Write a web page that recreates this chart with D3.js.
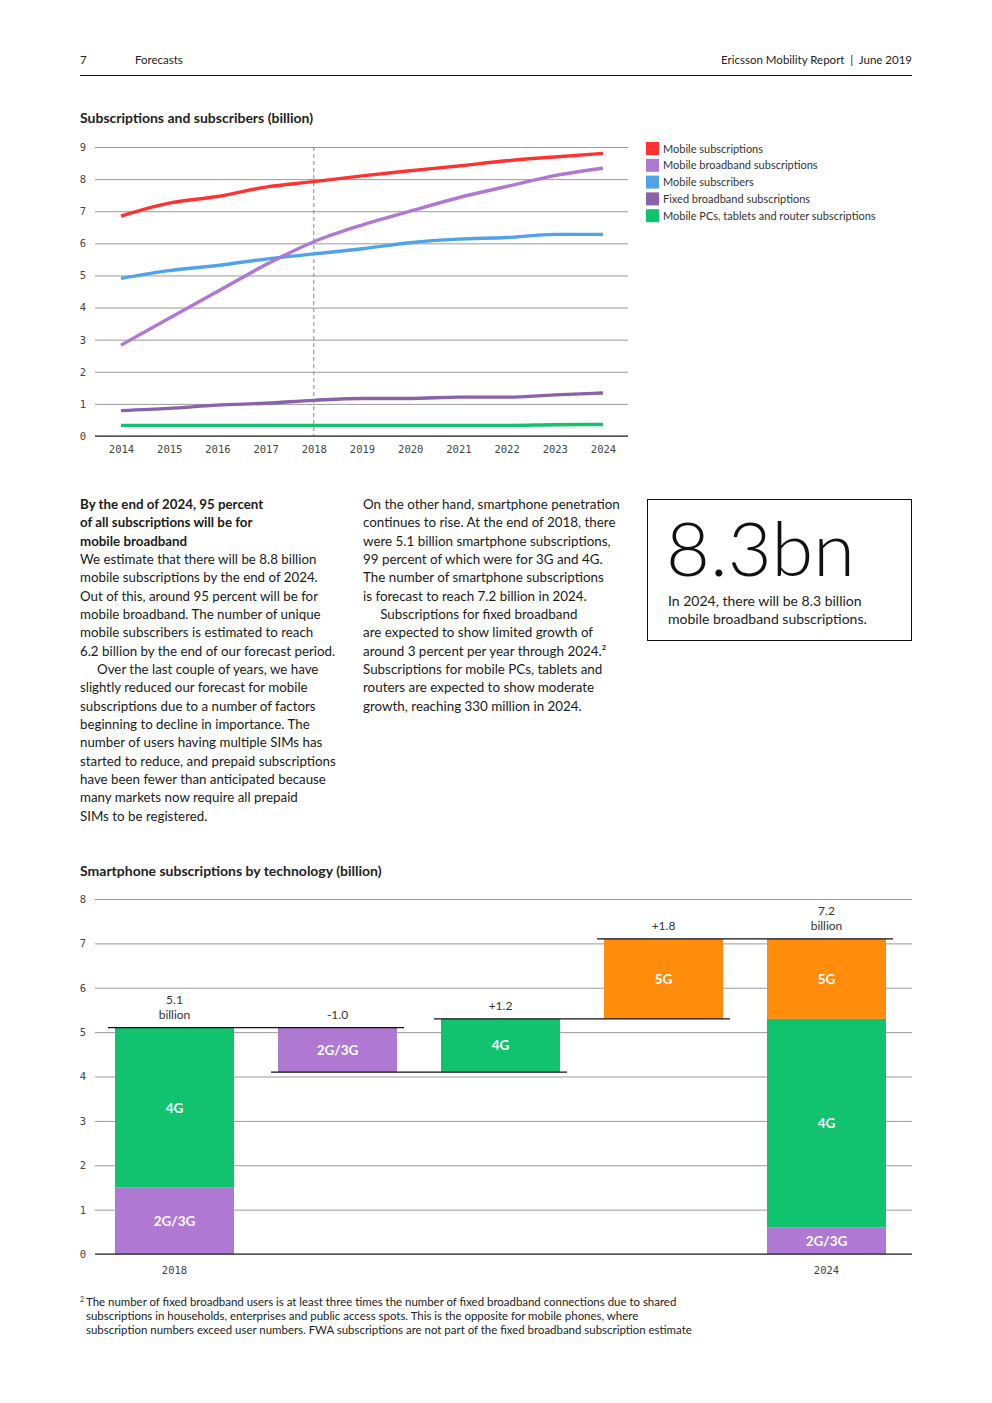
<!DOCTYPE html>
<html>
<head>
<meta charset="utf-8">
<script src="https://cdn.jsdelivr.net/npm/d3@7"></script>
<style>
  body { margin: 0; background: #fff; }
  svg { display: block; }
  text { font-family: Lato, "Noto Sans", sans-serif; fill: #222; }
  .mono { font-family: "DejaVu Sans Mono", monospace; }
</style>
</head>
<body>
<svg id="page" width="992" height="1403"></svg>
<script>
// ---- data: subscriptions and subscribers (billion) ----
const years = [2014, 2015, 2016, 2017, 2018, 2019, 2020, 2021, 2022, 2023, 2024];
const seriesNames = ["Mobile subscriptions", "Mobile broadband subscriptions", "Mobile subscribers",
                     "Fixed broadband subscriptions", "Mobile PCs, tablets and router subscriptions"];
const seriesColors = ["#ff3232", "#af78d2", "#4fa3e8", "#8a62a8", "#11c26f"];
const mobileSubs     = [6.85, 7.25, 7.46, 7.75, 7.92, 8.10, 8.26, 8.41, 8.57, 8.69, 8.80];
const mobileBroadband = [2.83, 3.67, 4.50, 5.33, 6.05, 6.57, 7.00, 7.42, 7.77, 8.11, 8.34];
const mobileSubscribers = [4.91, 5.15, 5.31, 5.51, 5.67, 5.83, 6.02, 6.13, 6.18, 6.28, 6.28];
const fixedBroadband = [0.79, 0.86, 0.96, 1.02, 1.11, 1.17, 1.17, 1.21, 1.21, 1.28, 1.34];
const pcsTablets     = [0.33, 0.33, 0.33, 0.33, 0.33, 0.33, 0.33, 0.33, 0.33, 0.35, 0.36];
const topTicks = [0, 1, 2, 3, 4, 5, 6, 7, 8, 9];

// ---- data: smartphone subscriptions by technology (billion) ----
const steps = ["2018", "2G/3G change", "4G change", "5G change", "2024"];
const techs = ["2G/3G", "4G", "5G"];
const techColors = {"2G/3G": "#af78d2", "4G": "#11c26f", "5G": "#ff8c0a"};
const start2018 = [1.5, 3.6, 0];
const end2024 = [0.6, 4.7, 1.8];
const changes = [-1.0, 1.2, 1.8];   // 2G/3G, 4G, 5G
const stepLabels = [["5.1", "billion"], ["-1.0"], ["+1.2"], ["+1.8"], ["7.2", "billion"]];
const bottomTicks = [0, 1, 2, 3, 4, 5, 6, 7, 8];

const svg = d3.select("#page");

// ---- header ----
svg.append("text").attr("x", 80).attr("y", 64).attr("font-size", 11.5).text("7");
svg.append("text").attr("x", 135).attr("y", 64).attr("font-size", 11.5).text("Forecasts");
svg.append("text").attr("x", 912).attr("y", 64).attr("font-size", 11.5).attr("text-anchor", "end")
    .attr("xml:space", "preserve")
    .text("Ericsson Mobility Report  |  June 2019");
svg.append("line").attr("x1", 80).attr("x2", 912).attr("y1", 75.5).attr("y2", 75.5)
    .attr("stroke", "#111").attr("stroke-width", 1.2);

// ---- top line chart ----
svg.append("text").attr("x", 80).attr("y", 123).attr("font-size", 14).attr("font-weight", "bold")
    .text("Subscriptions and subscribers (billion)");

const x = d3.scaleLinear().domain([2014, 2024]).range([121, 603]);
const y = d3.scaleLinear().domain([0, 9]).range([436, 147]);
const gridLeft = 95, gridRight = 628;

const yAxisTop = svg.append("g")
    .attr("transform", `translate(${gridLeft},0)`)
    .call(d3.axisLeft(y).tickValues(topTicks).tickSize(-(gridRight - gridLeft)).tickPadding(9));
yAxisTop.select(".domain").remove();
yAxisTop.selectAll("line").attr("stroke", "#9a9a9a");
yAxisTop.selectAll("text").attr("class", "mono").attr("font-size", 10.5).style("fill", "#444");

svg.append("line").attr("x1", x(2018)).attr("x2", x(2018)).attr("y1", y(9)).attr("y2", y(0))
    .attr("stroke", "#888").attr("stroke-dasharray", "4,3");

const xAxisTop = svg.append("g")
    .attr("transform", `translate(0,${y(0)})`)
    .call(d3.axisBottom(x).tickValues(years).tickFormat(d3.format("d")).tickSize(0).tickPadding(10));
xAxisTop.select(".domain").remove();
xAxisTop.selectAll("text").attr("class", "mono").attr("font-size", 10.5).style("fill", "#444");
svg.append("line").attr("x1", gridLeft).attr("x2", gridRight).attr("y1", y(0)).attr("y2", y(0))
    .attr("stroke", "#111");

const allSeries = [mobileSubs, mobileBroadband, mobileSubscribers, fixedBroadband, pcsTablets];
const line = d3.line().x((d, i) => x(years[i])).y(d => y(d)).curve(d3.curveMonotoneX);
svg.append("g").selectAll("path")
    .data(allSeries.map((v, i) => ({values: v, color: seriesColors[i]})).reverse())
    .join("path")
    .attr("d", d => line(d.values))
    .attr("fill", "none")
    .attr("stroke", d => d.color)
    .attr("stroke-width", 3.4);

// legend
const legend = svg.append("g").attr("transform", "translate(646,142)");
seriesNames.forEach((name, i) => {
    const g = legend.append("g").attr("transform", `translate(0,${i * 16.8})`);
    g.append("rect").attr("width", 13).attr("height", 13).attr("fill", seriesColors[i]);
    g.append("text").attr("x", 17).attr("y", 10.5).attr("font-size", 11).style("fill", "#333").text(name);
});

// ---- text columns ----
const leftHead = ["By the end of 2024, 95 percent", "of all subscriptions will be for", "mobile broadband"];
const leftBody = [
    "We estimate that there will be 8.8 billion",
    "mobile subscriptions by the end of 2024.",
    "Out of this, around 95 percent will be for",
    "mobile broadband. The number of unique",
    "mobile subscribers is estimated to reach",
    "6.2 billion by the end of our forecast period.",
    "\u00a0\u00a0\u00a0\u00a0\u00a0Over the last couple of years, we have",
    "slightly reduced our forecast for mobile",
    "subscriptions due to a number of factors",
    "beginning to decline in importance. The",
    "number of users having multiple SIMs has",
    "started to reduce, and prepaid subscriptions",
    "have been fewer than anticipated because",
    "many markets now require all prepaid",
    "SIMs to be registered."
];
const midBody = [
    "On the other hand, smartphone penetration",
    "continues to rise. At the end of 2018, there",
    "were 5.1 billion smartphone subscriptions,",
    "99 percent of which were for 3G and 4G.",
    "The number of smartphone subscriptions",
    "is forecast to reach 7.2 billion in 2024.",
    "\u00a0\u00a0\u00a0\u00a0\u00a0Subscriptions for fixed broadband",
    "are expected to show limited growth of",
    "around 3 percent per year through 2024.\u00b2",
    "Subscriptions for mobile PCs, tablets and",
    "routers are expected to show moderate",
    "growth, reaching 330 million in 2024."
];

function column(x0, lines, maxW) {
    const g = svg.append("g").attr("transform", `translate(${x0},0)`);
    lines.forEach((l, i) => {
        g.append("text").attr("x", 0).attr("y", 509 + i * 18.33)
            .attr("font-size", 14)
            .attr("font-weight", l.bold ? "bold" : "normal")
            .style("fill", "#1a1a1a")
            .text(l.t);
    });
    let widest = 0;
    g.selectAll("text").each(function() { widest = Math.max(widest, this.getComputedTextLength()); });
    if (widest > maxW) g.attr("transform", `translate(${x0},0) scale(${maxW / widest},1)`);
}
column(80, leftHead.map(t => ({t, bold: true})).concat(leftBody.map(t => ({t}))), 256);
column(363, midBody.map(t => ({t})), 257);

// ---- highlight box ----
svg.append("rect").attr("x", 647.5).attr("y", 499.5).attr("width", 264).attr("height", 141)
    .attr("fill", "none").attr("stroke", "#111").attr("stroke-width", 1);
svg.append("text")
    .attr("x", 666).attr("y", 576)
    .attr("font-size", 75)
    .attr("font-weight", 300).attr("textLength", 189).attr("lengthAdjust", "spacingAndGlyphs")
    .style("fill", "#111").text("8.3bn");
svg.append("text").attr("x", 668).attr("y", 606).attr("font-size", 14).style("fill", "#222")
    .text("In 2024, there will be 8.3 billion");
svg.append("text").attr("x", 668).attr("y", 624).attr("font-size", 14).style("fill", "#222")
    .text("mobile broadband subscriptions.");

// ---- bottom waterfall chart ----
svg.append("text").attr("x", 80).attr("y", 876).attr("font-size", 14).attr("font-weight", "bold")
    .text("Smartphone subscriptions by technology (billion)");

const xb = d3.scaleBand().domain(steps).range([93, 908]).paddingInner(0.27).paddingOuter(0.135);
const yb = d3.scaleLinear().domain([0, 8]).range([1254, 899]);
const bLeft = 95, bRight = 912;

const yAxisBot = svg.append("g")
    .attr("transform", `translate(${bLeft},0)`)
    .call(d3.axisLeft(yb).tickValues(bottomTicks).tickSize(-(bRight - bLeft)).tickPadding(9));
yAxisBot.select(".domain").remove();
yAxisBot.selectAll("line").attr("stroke", "#9a9a9a");
yAxisBot.selectAll("text").attr("class", "mono").attr("font-size", 10.5).style("fill", "#444");

// build segments
const segs = [];
let acc = 0;
techs.forEach((t, i) => { if (start2018[i] > 0) { segs.push({step: steps[0], tech: t, y0: acc, y1: acc + start2018[i]}); acc += start2018[i]; } });
const levels = [acc];
changes.forEach((c, i) => {
    const prev = levels[levels.length - 1];
    segs.push({step: steps[i + 1], tech: techs[i], y0: Math.min(prev, prev + c), y1: Math.max(prev, prev + c)});
    levels.push(prev + c);
});
acc = 0;
techs.forEach((t, i) => { segs.push({step: steps[4], tech: t, y0: acc, y1: acc + end2024[i]}); acc += end2024[i]; });

svg.append("g").selectAll("rect")
    .data(segs)
    .join("rect")
    .attr("x", d => xb(d.step))
    .attr("width", xb.bandwidth())
    .attr("y", d => yb(d.y1))
    .attr("height", d => yb(d.y0) - yb(d.y1))
    .attr("fill", d => techColors[d.tech]);

svg.append("g").selectAll("text")
    .data(segs)
    .join("text")
    .attr("x", d => xb(d.step) + xb.bandwidth() / 2)
    .attr("y", d => (yb(d.y0) + yb(d.y1)) / 2 + 5)
    .attr("text-anchor", "middle")
    .attr("font-size", 13.5)
    .attr("font-weight", "bold")
    .style("fill", "#fff")
    .text(d => d.tech);

// connectors between steps
const connectors = levels.map((lv, i) => ({from: steps[i], to: steps[i + 1], level: lv}));
svg.append("g").selectAll("line")
    .data(connectors)
    .join("line")
    .attr("x1", d => xb(d.from) - 7)
    .attr("x2", d => xb(d.to) + xb.bandwidth() + 7)
    .attr("y1", d => yb(d.level))
    .attr("y2", d => yb(d.level))
    .attr("stroke", "#111")
    .attr("stroke-width", 1.2);

svg.append("line").attr("x1", bLeft).attr("x2", bRight).attr("y1", yb(0)).attr("y2", yb(0))
    .attr("stroke", "#111");

// value labels on top of each step
const tops = [levels[0], levels[0], levels[2], levels[3], d3.sum(end2024)];
stepLabels.forEach((lab, i) => {
    const cx = xb(steps[i]) + xb.bandwidth() / 2;
    const base = yb(tops[i]) - 9;
    lab.forEach((t, j) => {
        svg.append("text").attr("x", cx).attr("y", base - (lab.length - 1 - j) * 15)
            .attr("text-anchor", "middle").attr("font-size", 12).style("fill", "#333").text(t);
    });
});

// year labels
["2018", "2024"].forEach(s => {
    svg.append("text").attr("class", "mono").attr("x", xb(s) + xb.bandwidth() / 2).attr("y", 1274)
        .attr("text-anchor", "middle").attr("font-size", 10.5).style("fill", "#444").text(s);
});

// ---- footnote ----
const foot = [
    "The number of fixed broadband users is at least three times the number of fixed broadband connections due to shared",
    "subscriptions in households, enterprises and public access spots. This is the opposite for mobile phones, where",
    "subscription numbers exceed user numbers. FWA subscriptions are not part of the fixed broadband subscription estimate"
];
svg.append("text").attr("x", 80).attr("y", 1302).attr("font-size", 7).style("fill", "#333").text("2");
const fg = svg.append("g");
foot.forEach((t, i) => {
    fg.append("text").attr("x", 86).attr("y", 1306 + i * 14).attr("font-size", 11.5).style("fill", "#222").text(t);
});
let fw = 0;
fg.selectAll("text").each(function() { fw = Math.max(fw, this.getComputedTextLength()); });
if (fw > 606) fg.attr("transform", `translate(86,0) scale(${606 / fw},1) translate(-86,0)`);
</script>
</body>
</html>
